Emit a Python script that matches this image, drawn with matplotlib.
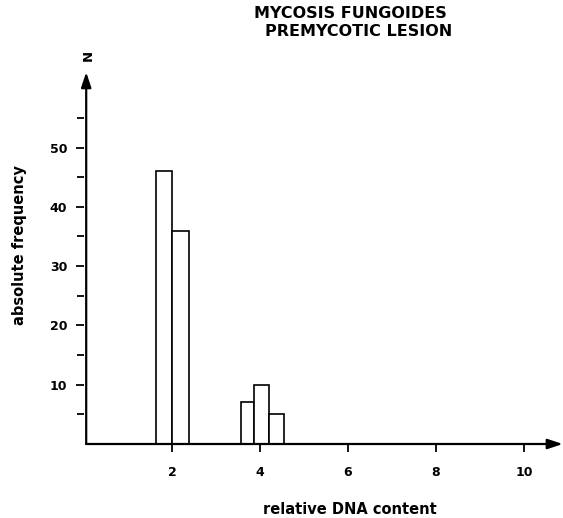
import matplotlib
matplotlib.use("Agg")
import matplotlib.pyplot as plt
from matplotlib.ticker import FixedLocator

# Histogram of relative DNA content
title_lines = ["MYCOSIS FUNGOIDES", "PREMYCOTIC LESION"]
bin_left = [1.64, 2.00, 3.57, 3.86, 4.20]
bin_right = [2.00, 2.39, 3.86, 4.20, 4.55]
counts = [46, 36, 7, 10, 5]

x_ticks = [2, 4, 6, 8, 10]
y_ticks = [10, 20, 30, 40, 50]
y_minor = [5, 15, 25, 35, 45, 55]

W, H = 563, 518
fig = plt.figure(figsize=(W / 100, H / 100), dpi=100)
fig.patch.set_facecolor("white")

x_max, y_max = 10.9, 63.0
px_x, px_y = 44.0, 5.93
left_px, base_px = 84, 444
ax = fig.add_axes([left_px / W, (H - base_px) / H,
                   x_max * px_x / W, y_max * px_y / H])
ax.set_xlim(0, x_max)
ax.set_ylim(0, y_max)
for s in ax.spines.values():
    s.set_visible(False)

widths = [r - l for l, r in zip(bin_left, bin_right)]
ax.bar(bin_left, counts, width=widths, align="edge",
       facecolor="white", edgecolor="black", linewidth=1.2, zorder=2)

# axes drawn as arrows
arrow = dict(arrowstyle="-|>,head_length=0.9,head_width=0.3", lw=1.6,
             color="black", shrinkA=0, shrinkB=0)
ax.annotate("", xy=(10.88, 0), xytext=(0.05, 0), xycoords="data",
            arrowprops=arrow, annotation_clip=False, zorder=3)
ax.annotate("", xy=(0.05, 62.7), xytext=(0.05, 0), xycoords="data",
            arrowprops=arrow, annotation_clip=False, zorder=3)

ax.xaxis.set_major_locator(FixedLocator(x_ticks))
ax.yaxis.set_major_locator(FixedLocator(y_ticks))
ax.yaxis.set_minor_locator(FixedLocator(y_minor))
ax.set_xticklabels([str(t) for t in x_ticks], fontsize=9, fontweight="bold")
ax.set_yticklabels([str(t) for t in y_ticks], fontsize=9, fontweight="bold")
ax.tick_params(axis="x", direction="out", length=6, width=1.3, pad=10)
ax.tick_params(axis="y", which="major", direction="out", length=6, width=1.3, pad=6)
ax.tick_params(axis="y", which="minor", direction="out", length=5, width=1.3)

ax.text(0.1, 65.5, "N", rotation=90, ha="center", va="center",
        fontsize=9.5, fontweight="bold")

fig.text(20 / W, 1 - 245 / H, "absolute frequency", rotation=90,
         ha="center", va="center", fontsize=10.5, fontweight="bold")
fig.text(350 / W, 1 - 510 / H, "relative DNA content",
         ha="center", va="center", fontsize=10.5, fontweight="bold")
fig.text(350 / W, 1 - 14 / H, title_lines[0], ha="center", va="center",
         fontsize=11.5, fontweight="bold")
fig.text(359 / W, 1 - 31 / H, title_lines[1], ha="center", va="center",
         fontsize=11.5, fontweight="bold")

fig.savefig("out.png", dpi=100)
